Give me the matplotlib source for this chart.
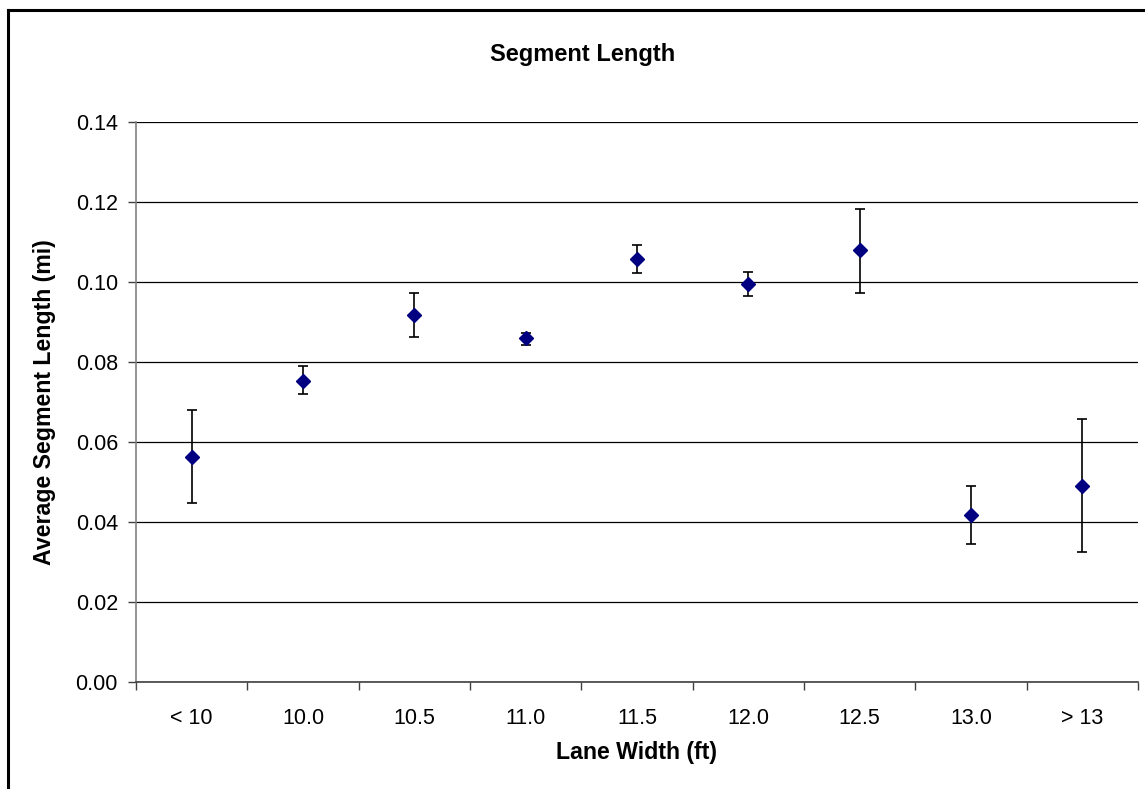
import numpy as np
import matplotlib.pyplot as plt
from matplotlib.lines import Line2D

# Average segment length by lane width, with error bars
categories = ["< 10", "10.0", "10.5", "11.0", "11.5", "12.0", "12.5", "13.0", "> 13"]
mean_len = [0.0563, 0.0753, 0.0917, 0.0859, 0.1056, 0.0995, 0.1078, 0.0418, 0.0489]
err_low = [0.0447, 0.0719, 0.0863, 0.0843, 0.1023, 0.0964, 0.0973, 0.0344, 0.0324]
err_high = [0.0679, 0.0789, 0.0973, 0.0873, 0.1091, 0.1025, 0.1181, 0.0489, 0.0656]
y_ticks = [0.00, 0.02, 0.04, 0.06, 0.08, 0.10, 0.12, 0.14]

plt.rcParams['font.family'] = ['Liberation Sans', 'DejaVu Sans']

W, H = 1145, 789
fig = plt.figure(figsize=(W / 100, H / 100), dpi=100)
ax = fig.add_axes([136 / W, 1 - 681.7 / H, (1138 - 136) / W, (681.7 - 121.7) / H])

x = np.arange(1, len(categories) + 1)
mean = np.array(mean_len)
yerr = np.vstack([mean - np.array(err_low), np.array(err_high) - mean])

ax.errorbar(x, mean, yerr=yerr, fmt='none', ecolor='black', elinewidth=1.2,
            capsize=3.8, capthick=1.2, zorder=3)
ax.plot(x, mean, linestyle='none', marker='D', markersize=7.2,
        color='#000080', markeredgecolor='#000080', zorder=4)

ax.set_xlim(0.5, len(categories) + 0.5)
ax.set_ylim(0, 0.14)
ax.set_yticks(y_ticks)
ax.set_yticklabels([f"{v:.2f}" for v in y_ticks])
ax.yaxis.grid(True, color='black', linewidth=0.9)
ax.set_axisbelow(True)

# category boundaries carry the tick marks, labels sit at the centres
ax.set_xticks(np.arange(0.5, len(categories) + 1.0, 1.0))
ax.set_xticklabels([])
ax.set_xticks(x, minor=True)
ax.set_xticklabels(categories, minor=True)
ax.tick_params(axis='x', which='major', length=6, width=1, color='#404040', direction='out')
ax.tick_params(axis='x', which='minor', length=0, pad=19, labelsize=15.5)
ax.tick_params(axis='y', length=6, width=1, color='#404040', pad=7, labelsize=15.5)

for side in ('top', 'right'):
    ax.spines[side].set_visible(False)
ax.spines['left'].set_color('#808080')
ax.spines['bottom'].set_color('#404040')
ax.spines['left'].set_linewidth(1.2)
ax.spines['bottom'].set_linewidth(1.2)

fig.text(583 / W, 1 - 54 / H, "Segment Length", ha='center', va='center',
         fontsize=17, fontweight='bold')
fig.text(637 / W, 1 - 752 / H, "Lane Width (ft)", ha='center', va='center',
         fontsize=16.7, fontweight='bold')
fig.text(45 / W, 1 - 402 / H, "Average Segment Length (mi)", ha='center', va='center',
         rotation=90, fontsize=16.7, fontweight='bold')

# chart frame (runs off the right and bottom edges)
fig.add_artist(Line2D([8 / W, 1.0], [1 - 10 / H, 1 - 10 / H], color='black', linewidth=2.2))
fig.add_artist(Line2D([8 / W, 8 / W], [0.0, 1 - 10 / H], color='black', linewidth=2.2))

fig.savefig('out.png', dpi=100)
